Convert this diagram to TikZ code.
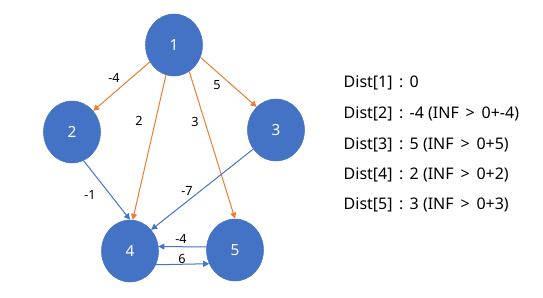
\documentclass[tikz,border=0pt]{standalone}
\usepackage{fontspec}
\setmainfont{Noto Sans}
\usetikzlibrary{arrows.meta,shapes.geometric}
\definecolor{NodeClr}{RGB}{68,114,196}
\definecolor{OrangeClr}{RGB}{237,125,49}
\definecolor{BlueClr}{RGB}{68,114,196}
\newcommand{\distsep}{\hspace{0.4em}:\hspace{0.4em}}

\tikzset{
  vertex/.style={ellipse,fill=NodeClr,draw=NodeClr,minimum width=57*0.75pt,minimum height=62*0.75pt,inner sep=0pt,text=white,font=\fontsize{11.5}{13}\selectfont},
  orangeedge/.style={draw=OrangeClr,line width=0.75pt,-{Triangle[length=4.5pt,width=4.5pt]}},
  blueedge/.style={draw=BlueClr,line width=0.75pt,-{Triangle[length=4.5pt,width=4.5pt]}},
  weight/.style={font=\fontsize{9.5}{11}\selectfont},
  dist/.style={anchor=west,font=\fontsize{12}{14}\selectfont}
}

\begin{document}
\begin{tikzpicture}[x=0.75pt,y=-0.75pt]
\useasboundingbox (0,0) rectangle (543,297);

\node[vertex] (n1) at (174,45) {1};
\node[vertex] (n2) at (72,132) {2};
\node[vertex] (n3) at (276,130) {3};
\node[vertex] (n4) at (130,251) {4};
\node[vertex] (n5) at (235,250) {5};

\draw[orangeedge] (n1.-145) -- (n2.45);
\draw[orangeedge] (n1.-25) -- (n3.130);
\draw[orangeedge] (n1.-105) -- (n4.85);
\draw[orangeedge] (n1.-60) -- (n5.90);
\draw[blueedge] (n2.-68) -- (n4.90);
\draw[blueedge] (n3.-140) -- (n4.45);
\draw[blueedge] (n5.174) -- (n4.9);
\draw[blueedge] (n4.-28) -- (n5.-152);

\node[weight] (w12) at (114,78) {-4};
\node[weight] (w13) at (217,85) {5};
\node[weight] (w14) at (139,121) {2};
\node[weight] (w15) at (195,122) {3};
\node[weight] (w24) at (90,195) {-1};
\node[weight] (w34) at (187,191) {-7};
\node[weight] (w54) at (181,239) {-4};
\node[weight] (w45) at (182,259) {6};

\node[dist] (d1) at (339,83) {Dist[1]\distsep 0};
\node[dist] (d2) at (339,114) {Dist[2]\distsep -4 (INF \,>\, 0+-4)};
\node[dist] (d3) at (339,145) {Dist[3]\distsep 5 (INF \,>\, 0+5)};
\node[dist] (d4) at (339,175) {Dist[4]\distsep 2 (INF \,>\, 0+2)};
\node[dist] (d5) at (339,205) {Dist[5]\distsep 3 (INF \,>\, 0+3)};

\end{tikzpicture}
\end{document}
